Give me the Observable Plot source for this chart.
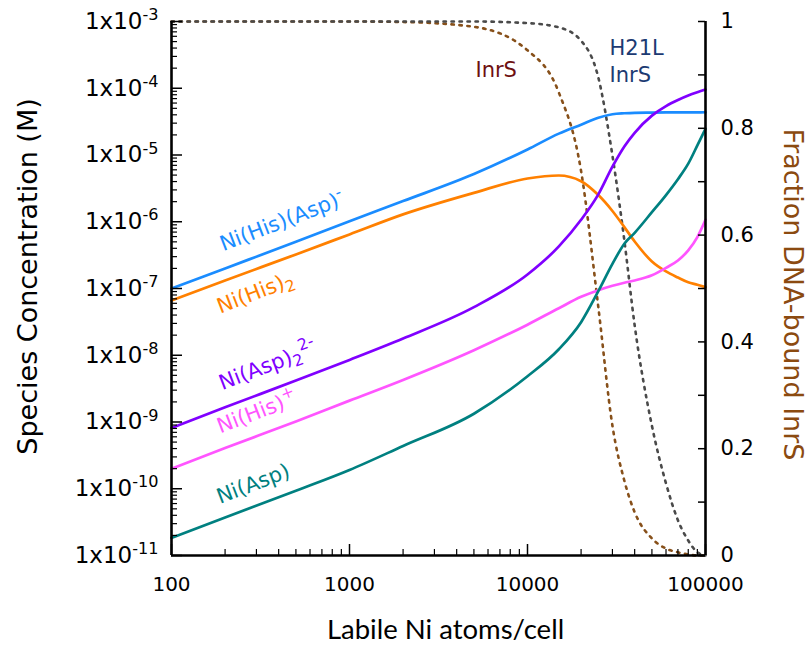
<!DOCTYPE html>
<html><head><meta charset="utf-8">
<script src="https://cdn.jsdelivr.net/npm/d3@7"></script>
<script src="https://cdn.jsdelivr.net/npm/@observablehq/plot@0.6"></script>
<style>
body{margin:0;background:#fff;}
#chart svg{display:block;}
</style>
</head><body><div id="chart"></div>
<script>
// Labile Ni atoms per cell (x)
const nickel = [100, 200, 500, 1000, 2000, 5000, 10000, 15000, 20000, 25000, 30000, 35000, 40000, 50000, 60000, 70000, 80000, 90000, 100000];
// Species concentrations (M)
const niHisAsp = [1.0e-7, 2.0e-7, 5.0e-7, 1.02e-6, 2.04e-6, 5.18e-6, 1.21e-5, 2.09e-5, 2.85e-5, 3.62e-5, 4.08e-5, 4.22e-5, 4.29e-5, 4.32e-5, 4.34e-5, 4.35e-5, 4.35e-5, 4.36e-5, 4.37e-5];
const niHis2 = [6.61e-8, 1.32e-7, 3.24e-7, 6.46e-7, 1.29e-6, 2.71e-6, 4.45e-6, 4.93e-6, 4.05e-6, 2.51e-6, 1.45e-6, 8.32e-7, 5.06e-7, 2.54e-7, 1.80e-7, 1.46e-7, 1.24e-7, 1.14e-7, 1.05e-7];
const niAsp2 = [8.13e-10, 1.66e-9, 4.17e-9, 8.51e-9, 1.78e-8, 5.25e-8, 1.62e-7, 4.27e-7, 1.07e-6, 2.57e-6, 6.68e-6, 1.34e-5, 2.15e-5, 3.89e-5, 5.41e-5, 6.67e-5, 7.78e-5, 8.71e-5, 9.55e-5];
const niHis = [2.0e-10, 4.07e-10, 1.02e-9, 2.09e-9, 4.27e-9, 1.19e-8, 2.87e-8, 5.07e-8, 7.50e-8, 9.44e-8, 1.10e-7, 1.22e-7, 1.32e-7, 1.58e-7, 2.04e-7, 2.63e-7, 3.72e-7, 5.89e-7, 1.07e-6];
const niAsp = [1.84e-11, 3.72e-11, 9.33e-11, 1.91e-10, 4.37e-10, 1.33e-9, 4.85e-9, 1.23e-8, 3.13e-8, 9.12e-8, 2.34e-7, 4.68e-7, 6.82e-7, 1.39e-6, 2.51e-6, 4.34e-6, 7.41e-6, 1.39e-5, 2.47e-5];
// Fraction DNA-bound (right axis)
const fracInrS = [1, 1, 1, 1, 0.999, 0.99, 0.946, 0.867, 0.72, 0.465, 0.243, 0.14, 0.081, 0.032, 0.013, 0.006, 0.002, 0.0, 0.0];
const fracH21L = [1, 1, 1, 1, 1, 1, 0.997, 0.989, 0.964, 0.895, 0.749, 0.59, 0.431, 0.243, 0.135, 0.066, 0.028, 0.006, 0.0];

// Tick labels
const decadeExponents = [-11, -10, -9, -8, -7, -6, -5, -4, -3];
const xMajorTicks = [100, 1000, 10000, 100000];
const fractionTicks = [0, 0.2, 0.4, 0.6, 0.8, 1];
const fractionMinorTicks = [0.1, 0.3, 0.5, 0.7, 0.9];

// Curve labels
const labelText = ["Ni(His)(Asp)^{-}", "Ni(His)_{2}", "Ni(Asp)_{2}^{2-}", "Ni(His)^{+}", "Ni(Asp)"];
const labelX = [195, 188, 193, 188, 187];
const labelY = [3.6e-7, 4.2e-8, 3.0e-9, 6.7e-10, 5.9e-11];
const noteText = ["InrS", "H21L", "InrS"];
const noteX = [5100, 28900, 28900];
const noteY = [1.45e-4, 3.1e-4, 1.22e-4];

const colors = {hisAsp: "#1a8cff", his2: "#ff8000", asp2: "#8000ff", his: "#ff55ff", asp: "#008080",
  inrs: "#87501a", h21l: "#4a4a4a"};
const labelColors = [colors.hisAsp, colors.his2, colors.asp2, colors.his, colors.asp];
const noteColors = ["#6e1010", "#1c3a72", "#1c3a72"];

const yLo = 1e-11, yHi = 1e-3;
const lLo = Math.log10(yLo), lHi = Math.log10(yHi);
const fracToY = f => Math.pow(10, lLo + f * (lHi - lLo));

const rows = (ys) => nickel.map((x, i) => ({x, y: ys[i]}));
const fracRows = (fs) => nickel.map((x, i) => ({x, y: fracToY(fs[i])}));

const minorY = [];
for (const e of decadeExponents.slice(0, -1)) for (let k = 2; k <= 9; k++) minorY.push(k * Math.pow(10, e));
const minorX = [];
for (const m of xMajorTicks.slice(0, -1)) for (let k = 2; k <= 9; k++) minorX.push(k * m);

const W = 809, H = 655, mL = 171, mR = 104, mT = 21, mB = 100;
const fw = W - mL - mR, fh = H - mT - mB;

const solid = (ys, c) => Plot.line(rows(ys), {x: "x", y: "y", stroke: c, strokeWidth: 2.7, curve: "monotone-x"});
const dotted = (fs, c) => Plot.line(fracRows(fs), {x: "x", y: "y", stroke: c, strokeWidth: 2.6, strokeDasharray: "2.4,5.6", curve: "monotone-x"});

const titleFont = "Lato, 'Open Sans', sans-serif";

const plot = Plot.plot({
  width: W, height: H,
  marginLeft: mL, marginRight: mR, marginTop: mT, marginBottom: mB,
  style: {fontFamily: "'DejaVu Sans', Verdana, sans-serif", background: "#fff", color: "#000"},
  x: {type: "log", domain: [100, 100000]},
  y: {type: "log", domain: [yLo, yHi]},
  marks: [
    dotted(fracInrS, colors.inrs),
    dotted(fracH21L, colors.h21l),
    solid(niHisAsp, colors.hisAsp),
    solid(niHis2, colors.his2),
    solid(niAsp2, colors.asp2),
    solid(niHis, colors.his),
    solid(niAsp, colors.asp),
    // ticks (inward)
    Plot.tickY(decadeExponents.map(e => Math.pow(10, e)), {y: d => d, insetRight: fw - 11, stroke: "#000", strokeWidth: 1.5}),
    Plot.tickY(minorY, {y: d => d, insetRight: fw - 6, stroke: "#000", strokeWidth: 1.2}),
    Plot.tickX(xMajorTicks, {x: d => d, insetTop: fh - 11, stroke: "#000", strokeWidth: 1.5}),
    Plot.tickX(minorX, {x: d => d, insetTop: fh - 6, stroke: "#000", strokeWidth: 1.2}),
    Plot.tickY(fractionTicks.concat(fractionMinorTicks).map(fracToY), {y: d => d, insetLeft: fw - 7, stroke: "#000", strokeWidth: 1.5}),
    // frame
    Plot.ruleX([100], {stroke: "#000", strokeWidth: 2.6}),
    Plot.ruleX([100000], {stroke: "#000", strokeWidth: 2.6}),
    Plot.ruleY([yLo], {stroke: "#000", strokeWidth: 2.6}),
    // axis labels
    Plot.axisY({ticks: decadeExponents.map(e => Math.pow(10, e)), tickSize: 0, tickPadding: 13, fontSize: 23,
      tickFormat: d => `1x10^{${Math.round(Math.log10(d))}}`, label: null}),
    Plot.axisX({ticks: xMajorTicks, tickSize: 0, tickPadding: 21, fontSize: 20, tickFormat: d => String(d), label: null}),
    Plot.text(fractionTicks, {y: f => fracToY(f), frameAnchor: "right", dx: 15, textAnchor: "start",
      text: f => String(f), fontSize: 21, fill: "#000"}),
    // curve labels
    ...labelText.map((t, i) => Plot.text([t], {x: () => labelX[i], y: () => labelY[i], text: d => d, rotate: -21,
      textAnchor: "start", lineAnchor: "bottom", fill: labelColors[i], fontSize: 21})),
    ...noteText.map((t, i) => Plot.text([t], {x: () => noteX[i], y: () => noteY[i], text: d => d,
      textAnchor: "start", lineAnchor: "bottom", fill: noteColors[i], fontSize: 21})),
    // titles
    Plot.text(["Labile Ni atoms/cell"], {frameAnchor: "bottom", dx: 7, dy: 83, textAnchor: "middle", text: d => d, fontSize: 27.5, fontFamily: titleFont}),
    Plot.text(["Species Concentration (M)"], {frameAnchor: "left", dx: -143, dy: -12, rotate: -90, textAnchor: "middle", text: d => d, fontSize: 27}),
    Plot.text(["Fraction DNA-bound InrS"], {frameAnchor: "right", dx: 87, dy: 6, rotate: 90, textAnchor: "middle", text: d => d, fontSize: 27, fill: "#8b4a10"})
  ]
});

document.getElementById("chart").appendChild(plot);

// Rich text: ^{sup} and _{sub}
const svgns = "http://www.w3.org/2000/svg";
plot.querySelectorAll("text").forEach(el => {
  const s = el.textContent;
  if (!/[\^_]\{/.test(s)) return;
  const fs = parseFloat(getComputedStyle(el).fontSize) || 20;
  const isTick = s.startsWith("1x10");
  el.textContent = "";
  const re = /([\^_])\{([^}]*)\}|([^\^_]+)/g;
  let m, cur = 0;
  while ((m = re.exec(s))) {
    const t = document.createElementNS(svgns, "tspan");
    let target = 0;
    if (m[3] !== undefined) {
      t.textContent = m[3];
    } else {
      t.textContent = m[2];
      t.setAttribute("font-size", (fs * (isTick ? 0.7 : 0.75)).toFixed(1) + "px");
      target = m[1] === "^" ? -fs * (isTick ? 0.38 : 0.42) : fs * 0.22;
    }
    const dy = target - cur;
    if (dy !== 0) t.setAttribute("dy", dy.toFixed(2));
    cur = target;
    el.appendChild(t);
  }
});
</script>
</body></html>
